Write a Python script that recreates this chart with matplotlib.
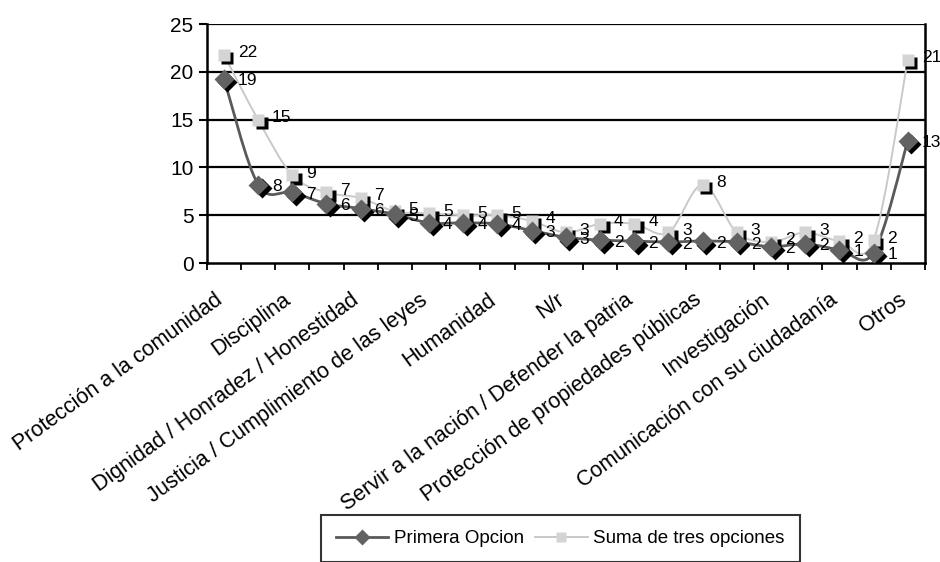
import numpy as np
import matplotlib
matplotlib.use("Agg")
import matplotlib.pyplot as plt
from matplotlib.path import Path
from matplotlib.patches import PathPatch
from matplotlib.lines import Line2D
import matplotlib.transforms as mtransforms

plt.rcParams['font.family'] = ['Liberation Sans', 'DejaVu Sans']

# 21 categorias; solo las impares llevan rotulo visible en el eje
categorias = [
    'Protección a la comunidad', '', 'Disciplina', '',
    'Dignidad / Honradez / Honestidad', '', 'Justicia / Cumplimiento de las leyes', '',
    'Humanidad', '', 'N/r', '',
    'Servir a la nación / Defender la patria', '', 'Protección de propiedades públicas', '',
    'Investigación', '', 'Comunicación con su ciudadanía', '',
    'Otros',
]
primera = [19.3, 8.2, 7.4, 6.2, 5.7, 5.1, 4.2, 4.2, 4.1, 3.4, 2.7,
           2.4, 2.3, 2.2, 2.3, 2.2, 1.7, 2.0, 1.4, 1.1, 12.8]
suma = [21.8, 15.0, 9.2, 7.4, 6.8, 5.4, 5.2, 5.0, 5.0, 4.4, 3.2,
        4.1, 4.1, 3.2, 8.2, 3.2, 2.2, 3.2, 2.3, 2.4, 21.3]

x = np.arange(1, len(categorias) + 1)


def curva_suave(xs, ys):
    # linea suavizada tipo Excel (Catmull-Rom como Bezier cubica)
    pts = np.column_stack([xs, ys]).astype(float)
    n = len(pts)
    verts = [pts[0]]
    codes = [Path.MOVETO]
    for i in range(n - 1):
        p0 = pts[max(i - 1, 0)]
        p1 = pts[i]
        p2 = pts[i + 1]
        p3 = pts[min(i + 2, n - 1)]
        c1 = p1 + (p2 - p0) / 6.0
        c2 = p2 - (p3 - p1) / 6.0
        verts += [c1, c2, p2]
        codes += [Path.CURVE4] * 3
    return Path(verts, codes)


fig = plt.figure(figsize=(9.4, 5.62), dpi=100)
ax = fig.add_axes([0.220, 0.532, 0.764, 0.425])

ax.set_xlim(0.5, len(categorias) + 0.5)
ax.set_ylim(0, 25)

for yv in [5, 10, 15, 20, 25]:
    ax.axhline(yv, color='black', lw=1.6, zorder=1)

sombra = mtransforms.offset_copy(ax.transData, fig=fig, x=3.5, y=-3.5, units='dots')

series = [
    (suma, '#c9c9c9', '#d4d4d4', 's', 8.5, 1.4),
    (primera, '#5a5a5a', '#626262', 'D', 10, 2.0),
]
for vals, lcol, mcol, mk, ms, lw in series:
    ax.add_patch(PathPatch(curva_suave(x, vals), facecolor='none',
                           edgecolor=lcol, lw=lw, zorder=3))
    ax.plot(x, vals, ls='none', marker=mk, ms=ms, color='black',
            mec='none', transform=sombra, zorder=4)
    ax.plot(x, vals, ls='none', marker=mk, ms=ms, color=mcol,
            mec='none', zorder=5)

# etiquetas de valor a la derecha de cada marcador
for vals, dy in ((suma, 1.5), (primera, -1.5)):
    for xi, v in zip(x, vals):
        ax.annotate(f'{v:.0f}', (xi, v), xytext=(10, dy), textcoords='offset points',
                    ha='left', va='center', fontsize=12.5,
                    family=['Liberation Sans Narrow', 'Liberation Sans'], zorder=6)

for s in ['left', 'bottom', 'right']:
    ax.spines[s].set_linewidth(1.8)
ax.spines['top'].set_visible(False)

ax.set_yticks([0, 5, 10, 15, 20, 25])
ax.tick_params(axis='y', labelsize=15, length=6, width=1.5, direction='out')
ax.set_xticks(x)
ax.set_xticklabels(categorias, rotation=36, ha='right', va='top',
                   rotation_mode='anchor', fontsize=15.5)
ax.tick_params(axis='x', which='major', length=0, pad=19)
ax.set_xticks(np.arange(0.5, len(categorias) + 1), minor=True)
ax.tick_params(axis='x', which='minor', length=5, width=1.3, direction='out')

# correr un poco los rotulos hacia la izquierda
desplaza = mtransforms.ScaledTranslation(-10 / 100, 0, fig.dpi_scale_trans)
for lbl in ax.get_xticklabels():
    lbl.set_transform(lbl.get_transform() + desplaza)

handles = [
    Line2D([], [], color='#5a5a5a', lw=2.0, marker='D', ms=8, mfc='#626262', mec='none'),
    Line2D([], [], color='#c9c9c9', lw=1.4, marker='s', ms=7, mfc='#d4d4d4', mec='none'),
]
leg = fig.legend(handles, ['Primera Opcion', 'Suma de tres opciones'],
                 loc='upper center', bbox_to_anchor=(0.596, 0.10), ncol=2,
                 fontsize=13.5, frameon=True, fancybox=False, handlelength=2.8,
                 columnspacing=0.6, handletextpad=0.3, borderpad=0.8)
leg.get_frame().set_edgecolor('black')
leg.get_frame().set_linewidth(1.5)

fig.savefig('out.png', dpi=100)
